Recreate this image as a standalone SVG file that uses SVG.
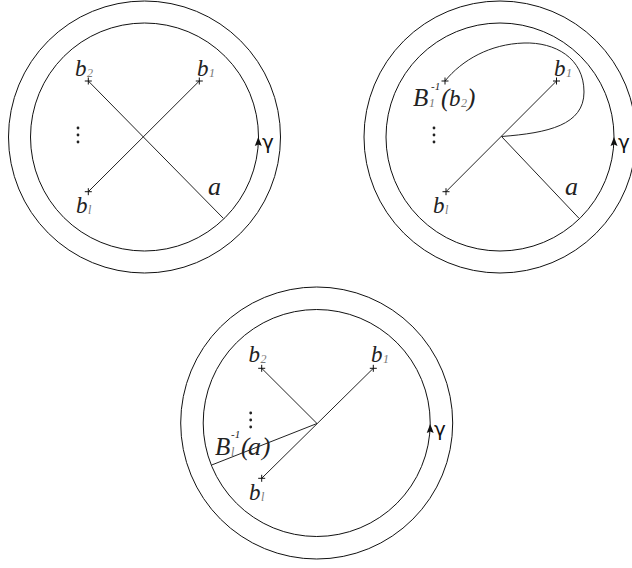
<svg xmlns="http://www.w3.org/2000/svg" width="632" height="568" viewBox="0 0 632 568">
<defs>
<style>
.c{fill:none;stroke:#111;stroke-width:1}
.l{fill:none;stroke:#222;stroke-width:1}
.p{stroke:#111;stroke-width:1}
.t{font-family:"Liberation Serif",serif;font-style:italic;fill:#222}
.b{font-size:23px}
.s{font-size:12px;fill:#777}
.sd{font-size:11px;fill:#222}
.a{font-size:26px}
.B{font-size:25px}
.g{font-family:"DejaVu Sans",sans-serif;font-size:20px;fill:#111}
.d{fill:#222}
.ar{fill:#111}
</style>
<g id="plus"><path class="p" d="M-3.5,0H3.5M0,-3.5V3.5"/></g>
<g id="dots"><circle class="d" cx="0" cy="0" r="1.4"/><circle class="d" cx="0" cy="7" r="1.4"/><circle class="d" cx="0" cy="14" r="1.4"/></g>
<path id="arr" class="ar" d="M0,-5L3.5,4L0,2.5L-3.5,4Z"/>
</defs>
<rect width="632" height="568" fill="#fff"/>

<g id="panel1">
<g id="p1-circles"><circle class="c" cx="144.5" cy="137" r="136"/><circle class="c" cx="144.5" cy="137" r="114"/></g>
<g id="p1-connectors">
<line class="l" x1="88.3" y1="81" x2="223.3" y2="218.3"/>
<line class="l" x1="199.3" y1="81" x2="88.3" y2="191.7"/>
</g>
<g id="p1-b2"><use href="#plus" x="88.3" y="81"/><text class="t b" x="75" y="76">b</text><text class="t s" x="87" y="77">2</text></g>
<g id="p1-b1"><use href="#plus" x="199.3" y="81"/><text class="t b" x="197" y="76">b</text><text class="t s" x="209" y="77">1</text></g>
<g id="p1-bl"><use href="#plus" x="88.3" y="191.7"/><text class="t b" x="76" y="213">b</text><text class="t s" x="88" y="214">l</text></g>
<text class="t a" x="208" y="195">a</text>
<use href="#dots" x="78" y="128"/>
<g id="p1-gamma"><use href="#arr" x="258.3" y="142"/><text class="g" x="262" y="149">γ</text></g>
</g>

<g id="panel2">
<g id="p2-circles"><circle class="c" cx="500" cy="137" r="136"/><circle class="c" cx="500" cy="137" r="114"/></g>
<g id="p2-connectors">
<line class="l" x1="556.5" y1="81" x2="446" y2="191.7"/>
<line class="l" x1="501.5" y1="136.5" x2="579" y2="218.3"/>
<path class="l" d="M501.5,136.5C548,133 584,125 584,92C584,58 555,42 524,43C490,44 462,60 445,81"/>
</g>
<g id="p2-b1"><use href="#plus" x="556.5" y="81"/><text class="t b" x="554" y="76">b</text><text class="t s" x="566" y="77">1</text></g>
<g id="p2-B"><use href="#plus" x="445" y="81"/><text class="t B" x="413" y="106">B</text><text class="t sd" x="431" y="90">-1</text><text class="t s" x="429" y="107">1</text><text class="t B" x="441" y="106">(</text><text class="t b" x="449" y="106">b</text><text class="t s" x="461" y="107">2</text><text class="t B" x="467" y="106">)</text></g>
<g id="p2-bl"><use href="#plus" x="446" y="191.7"/><text class="t b" x="433" y="213">b</text><text class="t s" x="445" y="214">l</text></g>
<text class="t a" x="565" y="195">a</text>
<use href="#dots" x="434" y="128"/>
<g id="p2-gamma"><use href="#arr" x="614" y="142"/><text class="g" x="618" y="149">γ</text></g>
</g>

<g id="panel3">
<g id="p3-circles"><circle class="c" cx="316.7" cy="423" r="136"/><circle class="c" cx="316.7" cy="423" r="113.5"/></g>
<g id="p3-connectors">
<line class="l" x1="373.3" y1="368.3" x2="261.7" y2="478.3"/>
<line class="l" x1="261.7" y1="368.3" x2="317" y2="423.5"/>
<line class="l" x1="317" y1="423.5" x2="211.7" y2="465"/>
</g>
<g id="p3-b2"><use href="#plus" x="261.7" y="368.3"/><text class="t b" x="248.5" y="362">b</text><text class="t s" x="260.5" y="363">2</text></g>
<g id="p3-b1"><use href="#plus" x="373.3" y="368.3"/><text class="t b" x="371" y="362">b</text><text class="t s" x="383" y="363">1</text></g>
<g id="p3-bl"><use href="#plus" x="261.7" y="478.3"/><text class="t b" x="249" y="500">b</text><text class="t s" x="261" y="501">l</text></g>
<g id="p3-B"><text class="t B" x="215" y="455">B</text><text class="t sd" x="231" y="438">-1</text><text class="t s" x="231" y="456">l</text><text class="t B" x="241" y="455">(</text><text class="t a" x="248" y="455">a</text><text class="t B" x="262" y="455">)</text></g>
<use href="#dots" x="250.7" y="413"/>
<g id="p3-gamma"><use href="#arr" x="430.2" y="429"/><text class="g" x="434" y="436">γ</text></g>
</g>
</svg>
